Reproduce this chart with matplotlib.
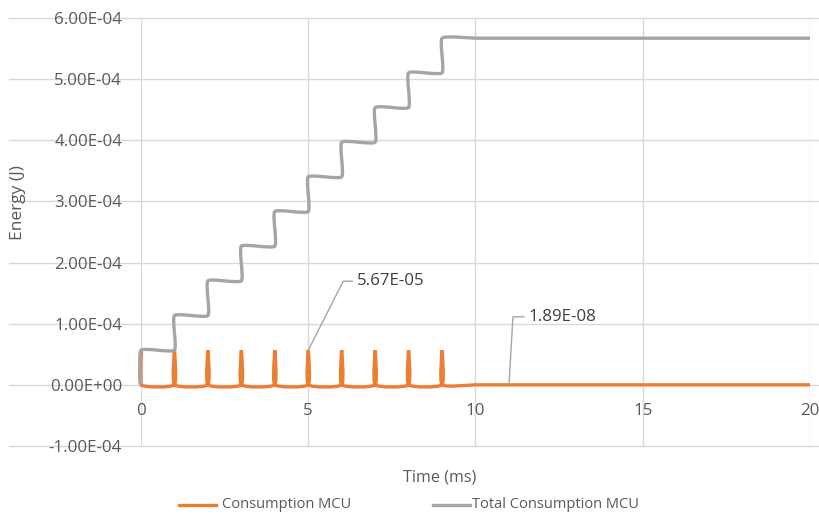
import matplotlib
matplotlib.use("Agg")
import matplotlib.pyplot as plt
import matplotlib.transforms as mtransforms
from matplotlib.path import Path
from matplotlib.patches import PathPatch
from matplotlib.lines import Line2D

# MCU energy per pulse (J) and the running total, time in ms
consumption_t = [0, 0, 0,
                 1, 1, 1,
                 2, 2, 2,
                 3, 3, 3,
                 4, 4, 4,
                 5, 5, 5,
                 6, 6, 6,
                 7, 7, 7,
                 8, 8, 8,
                 9, 9, 9,
                 10, 11, 12, 13, 14, 15, 16, 17, 18, 19, 20]
consumption_j = [1.89e-08, 5.67e-05, 1.89e-08,
                 1.89e-08, 5.67e-05, 1.89e-08,
                 1.89e-08, 5.67e-05, 1.89e-08,
                 1.89e-08, 5.67e-05, 1.89e-08,
                 1.89e-08, 5.67e-05, 1.89e-08,
                 1.89e-08, 5.67e-05, 1.89e-08,
                 1.89e-08, 5.67e-05, 1.89e-08,
                 1.89e-08, 5.67e-05, 1.89e-08,
                 1.89e-08, 5.67e-05, 1.89e-08,
                 1.89e-08, 5.67e-05, 1.89e-08,
                 1.89e-08, 1.89e-08, 1.89e-08, 1.89e-08, 1.89e-08, 1.89e-08,
                 1.89e-08, 1.89e-08, 1.89e-08, 1.89e-08, 1.89e-08]

total_t = [0, 0, 1, 1, 2, 2, 3, 3, 4, 4, 5, 5, 6, 6, 7, 7, 8, 8, 9, 9,
           10, 11, 12, 13, 14, 15, 16, 17, 18, 19, 20]
total_j = [0.0, 5.67e-05, 5.67e-05, 1.134e-04, 1.134e-04, 1.701e-04,
           1.701e-04, 2.268e-04, 2.268e-04, 2.835e-04, 2.835e-04, 3.402e-04,
           3.402e-04, 3.969e-04, 3.969e-04, 4.536e-04, 4.536e-04, 5.103e-04,
           5.103e-04, 5.67e-04,
           5.67e-04, 5.67e-04, 5.67e-04, 5.67e-04, 5.67e-04, 5.67e-04,
           5.67e-04, 5.67e-04, 5.67e-04, 5.67e-04, 5.67e-04]

x_ticks = [0, 5, 10, 15, 20]
y_ticks = [-1e-04, 0.0, 1e-04, 2e-04, 3e-04, 4e-04, 5e-04, 6e-04]

# labelled points: (series x, series y, text)
peak_label = (5, 5.67e-05, "5.67E-05")
tail_label = (11, 1.89e-08, "1.89E-08")

ORANGE = "#ED7D31"
GREY = "#A5A5A5"
GRID = "#D9D9D9"
TXT = "#595959"

plt.rcParams["font.family"] = ["Open Sans", "DejaVu Sans"]


def smooth_path(xs, ys, k=1 / 12):
    # cardinal-spline bezier through every point ("smoothed line"), k = handle factor
    pts = list(zip(xs, ys))
    n = len(pts)
    verts = [pts[0]]
    codes = [Path.MOVETO]
    for i in range(n - 1):
        p0 = pts[i - 1] if i > 0 else pts[i]
        p1 = pts[i]
        p2 = pts[i + 1]
        p3 = pts[i + 2] if i + 2 < n else pts[i + 1]
        c1 = (p1[0] + (p2[0] - p0[0]) * k, p1[1] + (p2[1] - p0[1]) * k)
        c2 = (p2[0] - (p3[0] - p1[0]) * k, p2[1] - (p3[1] - p1[1]) * k)
        verts += [c1, c2, p2]
        codes += [Path.CURVE4] * 3
    return Path(verts, codes)


fig = plt.figure(figsize=(8.2, 5.16), dpi=100)
ax = fig.add_axes([141 / 820, 70 / 516, 669 / 820, 428 / 516])
ax.set_xlim(0, 20)
ax.set_ylim(-1e-04, 6e-04)
for s in ax.spines.values():
    s.set_visible(False)

# grid: vertical inside the plot, horizontal running out under the tick labels
for x in x_ticks:
    ax.axvline(x, color=GRID, lw=1.0, zorder=0)
for y in y_ticks:
    ax.axhline(y, xmin=-0.197, xmax=1.015, color=GRID, lw=1.0,
               clip_on=False, zorder=0)

ax.set_xticks([])
ax.set_yticks(y_ticks)
ax.set_yticklabels(["%.2E" % v for v in y_ticks])
ax.tick_params(axis="y", length=0, pad=13.5, labelsize=12.2, labelcolor=TXT)
for x in x_ticks:
    ax.annotate(str(x), xy=(x, 0), xytext=(0, -26), textcoords="offset pixels",
                ha="center", va="center", fontsize=12.2, color=TXT)

ax.add_patch(PathPatch(smooth_path(consumption_t, consumption_j), fill=False,
                       edgecolor=ORANGE, lw=2.4, clip_on=False, zorder=3))
ax.add_patch(PathPatch(smooth_path(total_t, total_j), fill=False,
                       edgecolor=GREY, lw=2.4, clip_on=False, zorder=4))


def data_label(lab, leader):
    x, y, text = lab
    tr = mtransforms.Affine2D() + mtransforms.ScaledTranslation(x, y, ax.transData)
    ax.add_line(Line2D([p[0] for p in leader], [p[1] for p in leader],
                       transform=tr, color="#A6A6A6", lw=1.0, clip_on=False,
                       zorder=5))
    ax.annotate(text, xy=(x, y), xytext=(leader[-1][0] + 5, leader[-1][1]),
                textcoords="offset pixels", ha="left", va="center",
                fontsize=12.2, color="#404040", zorder=6)


data_label(peak_label, [(0, 0), (35, 69), (44, 69)])
data_label(tail_label, [(0, 0), (4, 68), (15, 68)])

fig.text(18 / 820, 1 - 203 / 516, "Energy (J)", rotation=90, ha="center",
         va="center", fontsize=12.5, color=TXT)
fig.text(440 / 820, 1 - 478 / 516, "Time (ms)", ha="center", va="center",
         fontsize=11.6, color=TXT)

# legend along the bottom
ly = 1 - 505 / 516
fig.add_artist(Line2D([179 / 820, 216 / 820], [ly, ly], color=ORANGE, lw=2.4))
fig.text(222 / 820, ly, "Consumption MCU", ha="left", va="center",
         fontsize=10.5, color=TXT)
fig.add_artist(Line2D([433 / 820, 470 / 820], [ly, ly], color=GREY, lw=2.4))
fig.text(472 / 820, ly, "Total Consumption MCU", ha="left", va="center",
         fontsize=10.5, color=TXT)

fig.savefig("out.png", dpi=100, facecolor="white")
